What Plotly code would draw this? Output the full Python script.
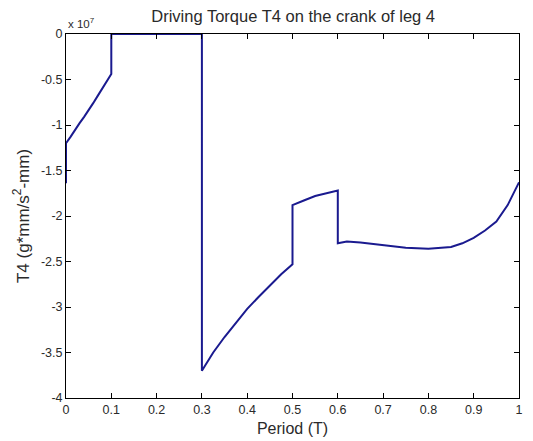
import plotly.graph_objects as go

# Period (T) and torque T4 in units of 1e7 g*mm/s^2-mm
period = [0.0, 0.0, 0.01, 0.02, 0.03, 0.04, 0.05, 0.06, 0.07, 0.08, 0.09, 0.1, 0.1,
          0.15, 0.2, 0.25, 0.3, 0.3,
          0.325, 0.35, 0.375, 0.4, 0.425, 0.45, 0.475, 0.5, 0.5,
          0.525, 0.55, 0.575, 0.6, 0.6,
          0.62, 0.65, 0.7, 0.75, 0.8, 0.85, 0.875, 0.9, 0.925, 0.95, 0.975, 1.0]
torque = [-1.64, -1.20, -1.13, -1.05, -0.98, -0.91, -0.84, -0.76, -0.68, -0.60, -0.52, -0.44, 0.0,
          0.0, 0.0, 0.0, 0.0, -3.70,
          -3.50, -3.33, -3.17, -3.02, -2.89, -2.76, -2.64, -2.53, -1.88,
          -1.83, -1.78, -1.75, -1.72, -2.30,
          -2.28, -2.29, -2.32, -2.35, -2.36, -2.34, -2.30, -2.24, -2.16, -2.06, -1.88, -1.63]

x_ticks = [0, 0.1, 0.2, 0.3, 0.4, 0.5, 0.6, 0.7, 0.8, 0.9, 1]
x_labels = ["0", "0.1", "0.2", "0.3", "0.4", "0.5", "0.6", "0.7", "0.8", "0.9", "1"]
y_ticks = [0, -0.5, -1, -1.5, -2, -2.5, -3, -3.5, -4]
y_labels = ["0", "-0.5", "-1", "-1.5", "-2", "-2.5", "-3", "-3.5", "-4"]

fig = go.Figure()
fig.add_trace(go.Scatter(x=period, y=torque, mode="lines",
                         line=dict(color="#1a1a8f", width=2), showlegend=False))

font_family = "Liberation Sans, Arial, sans-serif"
fig.update_layout(
    width=533, height=441,
    margin=dict(l=66, r=14, t=34, b=43, autoexpand=False),
    paper_bgcolor="white", plot_bgcolor="white",
    font=dict(family=font_family, size=12.5, color="#2a2a2a"),
    title=dict(text="Driving Torque T4 on the crank of leg 4", x=0.55, xanchor="center",
               y=1 - 16 / 441, yanchor="middle", font=dict(size=16.5, color="#2a2a2a")),
    xaxis=dict(range=[0, 1], tickvals=x_ticks, ticktext=x_labels, showgrid=False, zeroline=False,
               ticks="inside", ticklen=5, tickcolor="black", showline=True, linecolor="black",
               linewidth=1, mirror="ticks", automargin=False,
               title=dict(text="Period (T)", font=dict(size=16), standoff=6)),
    yaxis=dict(range=[-4, 0], tickvals=y_ticks, ticktext=y_labels, showgrid=False, zeroline=False,
               ticks="inside", ticklen=5, tickcolor="black", showline=True, linecolor="black",
               linewidth=1, mirror="ticks", automargin=False,
               title=dict(text="T4 (g*mm/s<sup>2</sup>-mm)", font=dict(size=17), standoff=7)),
    annotations=[dict(text="x 10<sup>7</sup>", xref="paper", yref="paper", x=0, y=1,
                      xanchor="left", yanchor="bottom", yshift=2, showarrow=False,
                      font=dict(size=11.5, color="#2a2a2a"))],
)

fig.write_html("out.html")
